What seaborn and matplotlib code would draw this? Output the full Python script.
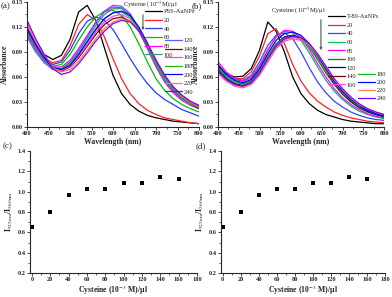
import numpy as np
import pandas as pd
import matplotlib
matplotlib.use("Agg")
import matplotlib.pyplot as plt
from matplotlib.ticker import MultipleLocator, FormatStrFormatter
from matplotlib.lines import Line2D
import seaborn as sns

sns.set_style("ticks")
plt.rcParams['font.family'] = ['Liberation Serif', 'DejaVu Serif']
plt.rcParams['mathtext.fontset'] = 'stix'

# ---------------- data ----------------
wavelength = [400, 420, 440, 460, 480, 500, 520, 540, 560, 580, 600,
              620, 640, 660, 680, 700, 720, 740, 760, 780, 800]

labels_a = ["PSS-AuNPs", "20", "40", "60", "80", "100",
            "120", "140", "160", "180", "200", "220", "240"]
colors_a = ["#000000", "#ff2020", "#1f3fff", "#00c000", "#ff00ff", "#3f8f8f",
            "#5f5fff", "#800000", "#ff40ff", "#10c010", "#0000ff", "#ff7f40", "#8000ff"]
spectra_a = [
    [.118, .100, .087, .081, .086, .105, .138, .146, .128, .095, .062, .040, .027, .019, .014, .011, .009, .007, .006, .005, .004],
    [.115, .097, .083, .077, .080, .097, .123, .135, .128, .108, .082, .058, .040, .028, .020, .015, .011, .009, .007, .005, .004],
    [.113, .095, .081, .075, .078, .092, .112, .127, .132, .128, .117, .100, .082, .066, .052, .041, .033, .027, .021, .017, .013],
    [.112, .094, .080, .073, .075, .087, .104, .120, .132, .139, .140, .134, .120, .100, .078, .058, .044, .034, .027, .022, .018],
    [.112, .094, .080, .072, .072, .080, .094, .110, .126, .138, .144, .143, .134, .116, .094, .072, .054, .041, .032, .026, .022],
    [.110, .092, .079, .070, .070, .078, .091, .106, .122, .135, .142, .142, .134, .117, .096, .074, .056, .043, .034, .028, .023],
    [.108, .090, .077, .069, .069, .077, .091, .108, .125, .139, .146, .145, .136, .118, .096, .074, .056, .043, .034, .028, .024],
    [.120, .100, .084, .070, .067, .072, .083, .097, .111, .123, .130, .132, .127, .115, .097, .077, .059, .045, .035, .028, .022],
    [.122, .102, .085, .071, .068, .073, .085, .099, .114, .126, .133, .135, .130, .117, .098, .078, .060, .046, .036, .029, .024],
    [.116, .097, .082, .072, .070, .076, .088, .103, .118, .130, .137, .138, .132, .117, .097, .076, .058, .045, .035, .028, .023],
    [.118, .099, .083, .071, .069, .074, .087, .102, .117, .130, .137, .139, .134, .120, .101, .080, .062, .048, .038, .030, .025],
    [.125, .104, .087, .071, .066, .069, .079, .092, .106, .118, .126, .130, .127, .116, .099, .080, .062, .048, .037, .030, .025],
    [.128, .106, .087, .070, .063, .066, .076, .089, .103, .115, .124, .128, .126, .116, .099, .080, .062, .048, .038, .031, .026],
]

labels_b = ["T-80-AuNPs", "20", "40", "60", "80", "100",
            "120", "140", "160", "180", "200", "220", "240"]
colors_b = ["#000000", "#ff2020", "#3f3fff", "#00c060", "#ff00ff", "#3f5f1f",
            "#00007f", "#800000", "#ff40ff", "#10c010", "#0000ff", "#ff7f60", "#8000ff"]
spectra_b = [
    [.071, .064, .060, .061, .070, .092, .126, .115, .090, .060, .040, .028, .020, .015, .012, .009, .007, .006, .005, .004, .004],
    [.072, .063, .058, .058, .066, .085, .112, .118, .100, .075, .055, .041, .031, .024, .018, .014, .011, .009, .007, .006, .005],
    [.075, .064, .058, .056, .062, .078, .098, .110, .113, .106, .090, .071, .054, .041, .031, .024, .018, .014, .011, .009, .008],
    [.073, .063, .057, .055, .060, .074, .093, .108, .115, .113, .104, .089, .072, .056, .043, .033, .025, .019, .015, .012, .010],
    [.078, .066, .058, .055, .059, .073, .092, .108, .116, .115, .107, .093, .076, .060, .046, .035, .027, .021, .016, .013, .011],
    [.070, .060, .054, .052, .056, .068, .085, .100, .108, .110, .106, .096, .081, .065, .051, .039, .030, .023, .018, .015, .012],
    [.068, .058, .052, .050, .054, .066, .083, .099, .108, .110, .107, .098, .084, .068, .053, .041, .031, .024, .019, .015, .013],
    [.066, .056, .050, .048, .052, .063, .080, .096, .105, .108, .106, .098, .085, .069, .054, .042, .032, .025, .020, .016, .013],
    [.064, .055, .049, .047, .051, .062, .078, .094, .103, .106, .104, .097, .084, .069, .055, .043, .033, .026, .021, .017, .014],
    [.072, .061, .054, .051, .055, .067, .084, .099, .107, .109, .106, .097, .083, .068, .054, .042, .032, .025, .020, .016, .013],
    [.074, .063, .056, .053, .057, .070, .088, .104, .112, .114, .110, .100, .086, .070, .055, .043, .033, .026, .020, .016, .013],
    [.065, .056, .050, .048, .052, .064, .080, .096, .105, .108, .106, .099, .087, .072, .057, .045, .035, .027, .022, .018, .015],
    [.067, .057, .051, .049, .053, .065, .082, .097, .106, .109, .107, .100, .088, .073, .058, .046, .036, .028, .022, .018, .015],
]

cysteine = [0, 20, 40, 60, 80, 100, 120, 140, 160]
ratio_c = [0.65, 0.80, 0.965, 1.03, 1.03, 1.09, 1.09, 1.14, 1.12]
ratio_d = [0.65, 0.80, 0.965, 1.03, 1.03, 1.09, 1.09, 1.14, 1.12]

# ---------------- figure ----------------
W, H = 392, 297
fig = plt.figure(figsize=(W / 100, H / 100), dpi=100)


def add_ax(l, r, t, b):
    return fig.add_axes([l / W, 1 - b / H, (r - l) / W, (b - t) / H])


ax_a = add_ax(27, 199, 2, 127)
ax_b = add_ax(218, 384, 2, 127)
ax_c = add_ax(30, 197, 151, 273)
ax_d = add_ax(221, 385, 151, 273)

tick_fs = 4.6
lab_fs = 5.6
leg_fs = 4.6


def style(ax):
    for s in ["top", "right"]:
        ax.spines[s].set_visible(False)
    for s in ["left", "bottom"]:
        ax.spines[s].set_linewidth(0.8)
    ax.tick_params(which="major", direction="out", length=2.2, width=0.6,
                   labelsize=tick_fs, pad=1)
    ax.tick_params(which="minor", direction="out", length=1.2, width=0.5)
    for t in ax.get_xticklabels() + ax.get_yticklabels():
        t.set_fontweight("bold")


def spectra_panel(ax, labels, colors, spectra):
    for lab, col, vals in zip(labels, colors, spectra):
        sns.lineplot(x=wavelength, y=vals, color=col, lw=0.9, ax=ax, label=lab)
    ax.set_xlim(400, 800)
    ax.set_ylim(0, 0.15)
    ax.xaxis.set_major_locator(MultipleLocator(50))
    ax.xaxis.set_minor_locator(MultipleLocator(25))
    ax.yaxis.set_major_locator(MultipleLocator(0.03))
    ax.yaxis.set_minor_locator(MultipleLocator(0.015))
    ax.yaxis.set_major_formatter(FormatStrFormatter("%.2f"))
    ax.set_xlabel("Wavelength (nm)", fontsize=lab_fs, fontweight="bold", labelpad=1)
    ax.set_ylabel("Absorbance", fontsize=lab_fs, fontweight="bold", labelpad=2)
    ax.get_legend().remove()
    style(ax)


spectra_panel(ax_a, labels_a, colors_a, spectra_a)
spectra_panel(ax_b, labels_b, colors_b, spectra_b)


def make_legends(ax, labels, colors, split, pos1, pos2, sp1, sp2,
                 title_xy, arrow_x, arrow_y):
    h = [Line2D([], [], color=c, lw=0.9) for c in colors]
    kw = dict(frameon=False, fontsize=leg_fs, borderpad=0, handletextpad=0.3,
              handlelength=2.6, borderaxespad=0)
    l1 = ax.legend(h[:split], labels[:split], loc="upper left",
                   bbox_to_anchor=pos1, labelspacing=sp1, **kw)
    ax.add_artist(l1)
    ax.legend(h[split:], labels[split:], loc="upper left",
              bbox_to_anchor=pos2, labelspacing=sp2, **kw)
    ax.text(title_xy[0], title_xy[1], "Cysteine (10$^{-3}$M)/μl", transform=ax.transAxes,
            fontsize=leg_fs, ha="center", va="center")
    ax.annotate("", xy=(arrow_x, arrow_y[1]), xytext=(arrow_x, arrow_y[0]),
                xycoords="axes fraction",
                arrowprops=dict(arrowstyle="-|>", color="#555555", lw=0.8,
                                mutation_scale=3))


make_legends(ax_a, labels_a, colors_a, 6, (0.686, 0.945), (0.802, 0.713),
             0.5, 0.48, (0.715, 0.976), 0.674, (0.92, 0.752))
make_legends(ax_b, labels_b, colors_b, 9, (0.663, 0.905), (0.843, 0.44),
             0.48, 0.38, (0.482, 0.928), 0.62, (0.88, 0.592))


def ratio_panel(ax, vals):
    sns.scatterplot(x=cysteine, y=vals, marker="s", s=5, color="black",
                    edgecolor="black", linewidth=0, ax=ax)
    ax.set_xlim(-2, 180)
    ax.set_ylim(0.2, 1.4)
    ax.xaxis.set_major_locator(MultipleLocator(20))
    ax.xaxis.set_minor_locator(MultipleLocator(10))
    ax.yaxis.set_major_locator(MultipleLocator(0.2))
    ax.yaxis.set_minor_locator(MultipleLocator(0.1))
    ax.yaxis.set_major_formatter(FormatStrFormatter("%.1f"))
    ax.set_xlabel("Cysteine (10$^{-3}$ M)/μl", fontsize=lab_fs, fontweight="bold", labelpad=0.5)
    ax.set_ylabel("I$_{\\mathrm{525nm}}$/I$_{\\mathrm{560nm}}$", fontsize=lab_fs,
                  fontweight="bold", labelpad=2)
    style(ax)


ratio_panel(ax_c, ratio_c)
ratio_panel(ax_d, ratio_d)

for txt, x, y in [("(a)", 1, 6), ("(b)", 192, 6), ("(c)", 3, 146), ("(d)", 196, 146)]:
    fig.text(x / W, 1 - y / H, txt, fontsize=6.5, ha="left", va="center")

fig.savefig("out.png", dpi=100)
